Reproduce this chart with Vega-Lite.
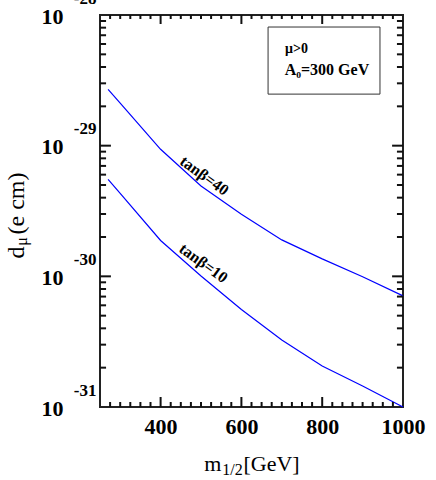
{
  "$schema": "https://vega.github.io/schema/vega-lite/v6.json",
  "autosize": "none",
  "width": 303,
  "height": 392,
  "padding": {"left": 100, "top": 15, "right": 33, "bottom": 73},
  "background": "white",
  "config": {
    "view": {"stroke": "#222", "strokeWidth": 2},
    "axis": {"grid": false, "domain": false, "ticks": false, "labelColor": "black", "titleColor": "black", "labelFont": "Liberation Serif", "titleFont": "Liberation Serif", "labelOverlap": false, "labelFlush": false, "titleFontWeight": "normal"},
    "text": {"font": "Liberation Serif"}
  },
  "datasets": {
    "curves": [
      {"m": 270, "d": 2.70e-29, "tb": "40"},
      {"m": 300, "d": 2.12e-29, "tb": "40"},
      {"m": 400, "d": 9.38e-30, "tb": "40"},
      {"m": 500, "d": 4.91e-30, "tb": "40"},
      {"m": 600, "d": 2.99e-30, "tb": "40"},
      {"m": 700, "d": 1.90e-30, "tb": "40"},
      {"m": 800, "d": 1.36e-30, "tb": "40"},
      {"m": 900, "d": 9.94e-31, "tb": "40"},
      {"m": 1000, "d": 7.09e-31, "tb": "40"},
      {"m": 270, "d": 5.53e-30, "tb": "10"},
      {"m": 300, "d": 4.31e-30, "tb": "10"},
      {"m": 400, "d": 1.88e-30, "tb": "10"},
      {"m": 500, "d": 1.006e-30, "tb": "10"},
      {"m": 600, "d": 5.57e-31, "tb": "10"},
      {"m": 700, "d": 3.26e-31, "tb": "10"},
      {"m": 800, "d": 2.06e-31, "tb": "10"},
      {"m": 900, "d": 1.45e-31, "tb": "10"},
      {"m": 1000, "d": 1.0e-31, "tb": "10"}
    ],
    "xmajor": [{"v": 400}, {"v": 600}, {"v": 800}],
    "xminor": [
      {"v": 275}, {"v": 300}, {"v": 325}, {"v": 350}, {"v": 375}, {"v": 425}, {"v": 450}, {"v": 475}, {"v": 500},
      {"v": 525}, {"v": 550}, {"v": 575}, {"v": 625}, {"v": 650}, {"v": 675}, {"v": 700}, {"v": 725}, {"v": 750},
      {"v": 775}, {"v": 825}, {"v": 850}, {"v": 875}, {"v": 900}, {"v": 925}, {"v": 950}, {"v": 975}
    ],
    "ymajor": [{"v": 1e-30}, {"v": 1e-29}],
    "yminor": [
      {"v": 2e-31}, {"v": 3e-31}, {"v": 4e-31}, {"v": 5e-31}, {"v": 6e-31}, {"v": 7e-31}, {"v": 8e-31}, {"v": 9e-31},
      {"v": 2e-30}, {"v": 3e-30}, {"v": 4e-30}, {"v": 5e-30}, {"v": 6e-30}, {"v": 7e-30}, {"v": 8e-30}, {"v": 9e-30},
      {"v": 2e-29}, {"v": 3e-29}, {"v": 4e-29}, {"v": 5e-29}, {"v": 6e-29}, {"v": 7e-29}, {"v": 8e-29}, {"v": 9e-29}
    ]
  },
  "resolve": {"axis": {"x": "independent", "y": "independent"}},
  "layer": [
    {
      "data": {"name": "curves"},
      "mark": {"type": "line", "color": "#0000ff", "strokeWidth": 1.2},
      "encoding": {
        "x": {"field": "m", "type": "quantitative",
          "scale": {"domain": [250, 1000], "nice": false, "zero": false},
          "axis": {"orient": "bottom", "values": [400, 600, 800, 1000], "format": "d", "labelPadding": 26, "labelBaseline": "alphabetic", "labelFontSize": 22, "labelFontWeight": "bold",
            "title": "m\u00a0\u00a0\u00a0\u00a0[GeV]", "titleFontSize": 22, "titleX": 151.5, "titleY": 63, "titleAlign": "center", "titleBaseline": "alphabetic", "titleAngle": 0}},
        "y": {"field": "d", "type": "quantitative",
          "scale": {"type": "log", "domain": [1e-31, 1e-28], "nice": false},
          "axis": {"orient": "left", "values": [1e-31, 1e-30, 1e-29, 1e-28], "labelExpr": "'10'", "labelPadding": 37, "labelBaseline": "middle", "labelOffset": 1, "labelFontSize": 22, "labelFontWeight": "bold",
            "title": "d\u00a0\u00a0(e cm)", "titleFontSize": 24, "titleX": -77, "titleY": 200, "titleAngle": -90, "titleAlign": "center", "titleBaseline": "alphabetic"}},
        "detail": {"field": "tb", "type": "nominal"}
      }
    },
    {
      "data": {"name": "xmajor"},
      "mark": {"type": "rect", "color": "#111111", "width": 2, "opacity": 1},
      "encoding": {
        "x": {"field": "v", "type": "quantitative", "scale": {"domain": [250, 1000], "nice": false, "zero": false}, "axis": null},
        "y": {"datum": 1e-31, "type": "quantitative", "scale": {"type": "log", "domain": [1e-31, 1e-28], "nice": false}, "axis": null},
        "y2": {"datum": 1.193e-31}
      }
    },
    {
      "data": {"name": "xminor"},
      "mark": {"type": "rect", "color": "#111111", "width": 2, "opacity": 1},
      "encoding": {
        "x": {"field": "v", "type": "quantitative", "scale": {"domain": [250, 1000], "nice": false, "zero": false}, "axis": null},
        "y": {"datum": 1e-31, "type": "quantitative", "scale": {"type": "log", "domain": [1e-31, 1e-28], "nice": false}, "axis": null},
        "y2": {"datum": 1.092e-31}
      }
    },
    {
      "data": {"name": "xmajor"},
      "mark": {"type": "rect", "color": "#111111", "width": 2, "opacity": 1},
      "encoding": {
        "x": {"field": "v", "type": "quantitative", "scale": {"domain": [250, 1000], "nice": false, "zero": false}, "axis": null},
        "y": {"datum": 1e-28, "type": "quantitative", "scale": {"type": "log", "domain": [1e-31, 1e-28], "nice": false}, "axis": null},
        "y2": {"datum": 8.53e-29}
      }
    },
    {
      "data": {"name": "xminor"},
      "mark": {"type": "rect", "color": "#111111", "width": 2, "opacity": 1},
      "encoding": {
        "x": {"field": "v", "type": "quantitative", "scale": {"domain": [250, 1000], "nice": false, "zero": false}, "axis": null},
        "y": {"datum": 1e-28, "type": "quantitative", "scale": {"type": "log", "domain": [1e-31, 1e-28], "nice": false}, "axis": null},
        "y2": {"datum": 9.32e-29}
      }
    },
    {
      "data": {"name": "ymajor"},
      "mark": {"type": "rect", "color": "#111111", "height": 2, "opacity": 1},
      "encoding": {
        "y": {"field": "v", "type": "quantitative", "scale": {"type": "log", "domain": [1e-31, 1e-28], "nice": false}, "axis": null},
        "x": {"datum": 250, "type": "quantitative", "scale": {"domain": [250, 1000], "nice": false, "zero": false}, "axis": null},
        "x2": {"datum": 277}
      }
    },
    {
      "data": {"name": "yminor"},
      "mark": {"type": "rect", "color": "#111111", "height": 2, "opacity": 1},
      "encoding": {
        "y": {"field": "v", "type": "quantitative", "scale": {"type": "log", "domain": [1e-31, 1e-28], "nice": false}, "axis": null},
        "x": {"datum": 250, "type": "quantitative", "scale": {"domain": [250, 1000], "nice": false, "zero": false}, "axis": null},
        "x2": {"datum": 265}
      }
    },
    {
      "data": {"name": "ymajor"},
      "mark": {"type": "rect", "color": "#111111", "height": 2, "opacity": 1},
      "encoding": {
        "y": {"field": "v", "type": "quantitative", "scale": {"type": "log", "domain": [1e-31, 1e-28], "nice": false}, "axis": null},
        "x": {"datum": 1000, "type": "quantitative", "scale": {"domain": [250, 1000], "nice": false, "zero": false}, "axis": null},
        "x2": {"datum": 973}
      }
    },
    {
      "data": {"name": "yminor"},
      "mark": {"type": "rect", "color": "#111111", "height": 2, "opacity": 1},
      "encoding": {
        "y": {"field": "v", "type": "quantitative", "scale": {"type": "log", "domain": [1e-31, 1e-28], "nice": false}, "axis": null},
        "x": {"datum": 1000, "type": "quantitative", "scale": {"domain": [250, 1000], "nice": false, "zero": false}, "axis": null},
        "x2": {"datum": 985}
      }
    },
    {
      "data": {"values": [{}]},
      "mark": {"type": "text", "text": "tan\u03b2=40", "angle": 36, "fontSize": 16, "fontWeight": "bold", "align": "center", "baseline": "middle", "color": "black"},
      "encoding": {
        "x": {"datum": 508, "type": "quantitative", "scale": {"domain": [250, 1000], "nice": false, "zero": false}, "axis": null},
        "y": {"datum": 5.88e-30, "type": "quantitative", "scale": {"type": "log", "domain": [1e-31, 1e-28], "nice": false}, "axis": null}
      }
    },
    {
      "data": {"values": [{}]},
      "mark": {"type": "text", "text": "tan\u03b2=10", "angle": 36, "fontSize": 16, "fontWeight": "bold", "align": "center", "baseline": "middle", "color": "black"},
      "encoding": {
        "x": {"datum": 506, "type": "quantitative", "scale": {"domain": [250, 1000], "nice": false, "zero": false}, "axis": null},
        "y": {"datum": 1.258e-30, "type": "quantitative", "scale": {"type": "log", "domain": [1e-31, 1e-28], "nice": false}, "axis": null}
      }
    },
    {
      "data": {"values": [{}]},
      "mark": {"type": "rect", "fill": null, "fillOpacity": 0, "stroke": "#333", "strokeWidth": 1},
      "encoding": {
        "x": {"datum": 666, "type": "quantitative", "scale": {"domain": [250, 1000], "nice": false, "zero": false}, "axis": null},
        "x2": {"datum": 943},
        "y": {"datum": 8.09e-29, "type": "quantitative", "scale": {"type": "log", "domain": [1e-31, 1e-28], "nice": false}, "axis": null},
        "y2": {"datum": 2.48e-29}
      }
    },
    {
      "data": {"values": [{}]},
      "mark": {"type": "text", "text": "\u03bc>0", "fontSize": 14, "fontWeight": "bold", "align": "left", "baseline": "alphabetic", "color": "black"},
      "encoding": {
        "x": {"datum": 708, "type": "quantitative", "scale": {"domain": [250, 1000], "nice": false, "zero": false},
          "axis": {"orient": "bottom", "labels": false, "title": "1/2", "titleFontSize": 16, "titleX": 132, "titleY": 67, "titleAlign": "center", "titleBaseline": "alphabetic", "titleAngle": 0}},
        "y": {"datum": 5.12e-29, "type": "quantitative", "scale": {"type": "log", "domain": [1e-31, 1e-28], "nice": false},
          "axis": {"orient": "left", "values": [1e-31, 1e-30, 1e-29, 1e-28], "labelExpr": "'' + round(log(datum.value)/LN10)", "labelPadding": 4, "labelBaseline": "middle", "labelOffset": -17, "labelFontSize": 17, "labelFontWeight": "bold",
            "title": "\u03bc", "titleFontSize": 16, "titleX": -74, "titleY": 226, "titleAngle": -90, "titleAlign": "center", "titleBaseline": "alphabetic"}}
      }
    },
    {
      "data": {"values": [{}]},
      "mark": {"type": "text", "text": "A\u2080=300 GeV", "fontSize": 16, "fontWeight": "bold", "align": "left", "baseline": "alphabetic", "color": "black"},
      "encoding": {
        "x": {"datum": 707, "type": "quantitative", "scale": {"domain": [250, 1000], "nice": false, "zero": false}, "axis": null},
        "y": {"datum": 3.47e-29, "type": "quantitative", "scale": {"type": "log", "domain": [1e-31, 1e-28], "nice": false}, "axis": null}
      }
    }
  ]
}
